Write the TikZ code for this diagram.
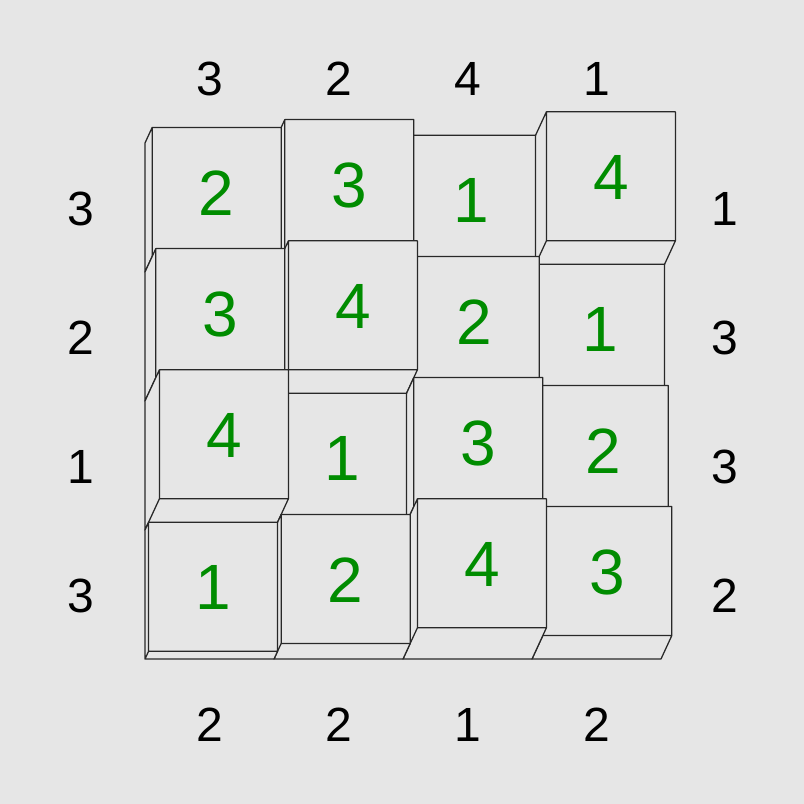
\documentclass[tikz,border=0pt]{standalone}
\usepackage{fontspec}
\setmainfont{Liberation Sans}
\definecolor{bggray}{RGB}{230,230,230}
\definecolor{edgegray}{RGB}{40,40,40}
\definecolor{digitgreen}{RGB}{0,140,0}
\begin{document}
\begin{tikzpicture}[x=0.75pt,y=0.75pt,yscale=-1,xscale=1,
    cube/.style={draw=edgegray,fill=bggray,line width=0.95pt,line join=round},
    clue/.style={inner sep=0pt,text=black,font=\fontsize{36}{36}\selectfont},
    level/.style={inner sep=0pt,text=digitgreen,font=\fontsize{48}{48}\selectfont}]
            %Background
            \fill [bggray] (0,0) rectangle (804,804);
            
            %Shape: Box row 1, column 4
            \draw [cube] (532,143) -- (532,272) -- (546.4,240.8) -- (546.4,111.8) -- cycle (532,272) -- (661,272) -- (675.4,240.8) -- (546.4,240.8) -- cycle (546.4,111.8) rectangle (675.4,240.8) ;
            %Shape: Box row 1, column 3
            \draw [cube] (403,143) -- (403,272) -- (406.6,264.2) -- (406.6,135.2) -- cycle (403,272) -- (532,272) -- (535.6,264.2) -- (406.6,264.2) -- cycle (406.6,135.2) rectangle (535.6,264.2) ;
            %Shape: Box row 1, column 2
            \draw [cube] (274,143) -- (274,272) -- (284.8,248.6) -- (284.8,119.6) -- cycle (274,272) -- (403,272) -- (413.8,248.6) -- (284.8,248.6) -- cycle (284.8,119.6) rectangle (413.8,248.6) ;
            %Shape: Box row 1, column 1
            \draw [cube] (145,143) -- (145,272) -- (152.2,256.4) -- (152.2,127.4) -- cycle (145,272) -- (274,272) -- (281.2,256.4) -- (152.2,256.4) -- cycle (152.2,127.4) rectangle (281.2,256.4) ;
            
            %Shape: Box row 2, column 4
            \draw [cube] (532,272) -- (532,401) -- (535.6,393.2) -- (535.6,264.2) -- cycle (532,401) -- (661,401) -- (664.6,393.2) -- (535.6,393.2) -- cycle (535.6,264.2) rectangle (664.6,393.2) ;
            %Shape: Box row 2, column 3
            \draw [cube] (403,272) -- (403,401) -- (410.2,385.4) -- (410.2,256.4) -- cycle (403,401) -- (532,401) -- (539.2,385.4) -- (410.2,385.4) -- cycle (410.2,256.4) rectangle (539.2,385.4) ;
            %Shape: Box row 2, column 2
            \draw [cube] (274,272) -- (274,401) -- (288.4,369.8) -- (288.4,240.8) -- cycle (274,401) -- (403,401) -- (417.4,369.8) -- (288.4,369.8) -- cycle (288.4,240.8) rectangle (417.4,369.8) ;
            %Shape: Box row 2, column 1
            \draw [cube] (145,272) -- (145,401) -- (155.8,377.6) -- (155.8,248.6) -- cycle (145,401) -- (274,401) -- (284.8,377.6) -- (155.8,377.6) -- cycle (155.8,248.6) rectangle (284.8,377.6) ;
            
            %Shape: Box row 3, column 4
            \draw [cube] (532,401) -- (532,530) -- (539.2,514.4) -- (539.2,385.4) -- cycle (532,530) -- (661,530) -- (668.2,514.4) -- (539.2,514.4) -- cycle (539.2,385.4) rectangle (668.2,514.4) ;
            %Shape: Box row 3, column 3
            \draw [cube] (403,401) -- (403,530) -- (413.8,506.6) -- (413.8,377.6) -- cycle (403,530) -- (532,530) -- (542.8,506.6) -- (413.8,506.6) -- cycle (413.8,377.6) rectangle (542.8,506.6) ;
            %Shape: Box row 3, column 2
            \draw [cube] (274,401) -- (274,530) -- (277.6,522.2) -- (277.6,393.2) -- cycle (274,530) -- (403,530) -- (406.6,522.2) -- (277.6,522.2) -- cycle (277.6,393.2) rectangle (406.6,522.2) ;
            %Shape: Box row 3, column 1
            \draw [cube] (145,401) -- (145,530) -- (159.4,498.8) -- (159.4,369.8) -- cycle (145,530) -- (274,530) -- (288.4,498.8) -- (159.4,498.8) -- cycle (159.4,369.8) rectangle (288.4,498.8) ;
            
            %Shape: Box row 4, column 4
            \draw [cube] (532,530) -- (532,659) -- (542.8,635.6) -- (542.8,506.6) -- cycle (532,659) -- (661,659) -- (671.8,635.6) -- (542.8,635.6) -- cycle (542.8,506.6) rectangle (671.8,635.6) ;
            %Shape: Box row 4, column 3
            \draw [cube] (403,530) -- (403,659) -- (417.4,627.8) -- (417.4,498.8) -- cycle (403,659) -- (532,659) -- (546.4,627.8) -- (417.4,627.8) -- cycle (417.4,498.8) rectangle (546.4,627.8) ;
            %Shape: Box row 4, column 2
            \draw [cube] (274,530) -- (274,659) -- (281.2,643.4) -- (281.2,514.4) -- cycle (274,659) -- (403,659) -- (410.2,643.4) -- (281.2,643.4) -- cycle (281.2,514.4) rectangle (410.2,643.4) ;
            %Shape: Box row 4, column 1
            \draw [cube] (145,530) -- (145,659) -- (148.6,651.2) -- (148.6,522.2) -- cycle (145,659) -- (274,659) -- (277.6,651.2) -- (148.6,651.2) -- cycle (148.6,522.2) rectangle (277.6,651.2) ;
            
            % Text Node
            \draw (216.7,192.9) node [level] (v11) {2};
            \draw (349.3,185.1) node [level] (v12) {3};
            \draw (471.1,200.7) node [level] (v13) {1};
            \draw (610.9,177.3) node [level] (v14) {4};
            % Text Node
            \draw (220.3,314.1) node [level] (v21) {3};
            \draw (352.9,306.3) node [level] (v22) {4};
            \draw (474.7,321.9) node [level] (v23) {2};
            \draw (600.1,329.7) node [level] (v24) {1};
            % Text Node
            \draw (223.9,435.3) node [level] (v31) {4};
            \draw (342.1,458.7) node [level] (v32) {1};
            \draw (478.3,443.1) node [level] (v33) {3};
            \draw (603.7,450.9) node [level] (v34) {2};
            % Text Node
            \draw (213.1,587.7) node [level] (v41) {1};
            \draw (345.7,579.9) node [level] (v42) {2};
            \draw (481.9,564.3) node [level] (v43) {4};
            \draw (607.3,572.1) node [level] (v44) {3};
            
            % Text Node
            \draw (209.5,79) node [clue] (top1) {3};
            \draw (338.5,79) node [clue] (top2) {2};
            \draw (467.5,79) node [clue] (top3) {4};
            \draw (596.5,79) node [clue] (top4) {1};
            % Text Node
            \draw (209.5,724.5) node [clue] (bot1) {2};
            \draw (338.5,724.5) node [clue] (bot2) {2};
            \draw (467.5,724.5) node [clue] (bot3) {1};
            \draw (596.5,724.5) node [clue] (bot4) {2};
            % Text Node
            \draw (80.5,208.5) node [clue] (left1) {3};
            \draw (80.5,337.5) node [clue] (left2) {2};
            \draw (80.5,466.5) node [clue] (left3) {1};
            \draw (80.5,595.5) node [clue] (left4) {3};
            % Text Node
            \draw (724.5,208.5) node [clue] (right1) {1};
            \draw (724.5,337.5) node [clue] (right2) {3};
            \draw (724.5,466.5) node [clue] (right3) {3};
            \draw (724.5,595.5) node [clue] (right4) {2};
\end{tikzpicture}
\end{document}
